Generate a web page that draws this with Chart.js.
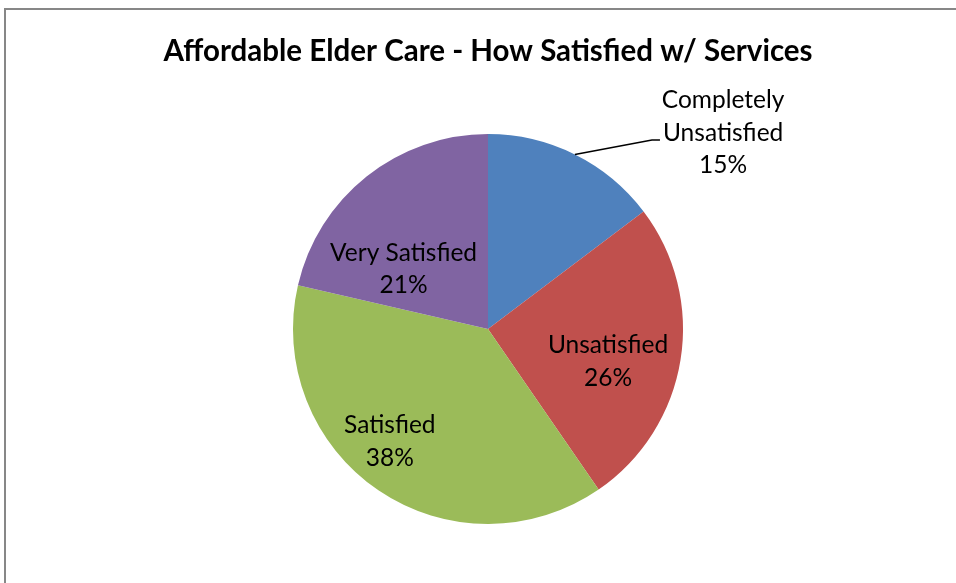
<!DOCTYPE html>
<html>
<head>
<meta charset="utf-8">
<script src="https://cdn.jsdelivr.net/npm/chart.js@4.4.0/dist/chart.umd.min.js"></script>
<style>
  html, body { margin: 0; padding: 0; background: #ffffff; }
  #wrap { width: 956px; height: 583px; }
</style>
</head>
<body>
<div id="wrap"><canvas id="pieChart" width="956" height="583"></canvas></div>
<script>
const chartTitle = "Affordable Elder Care - How Satisfied w/ Services";
const categories = ["Completely Unsatisfied", "Unsatisfied", "Satisfied", "Very Satisfied"];
// slice shares (labels show them rounded)
const shares = [14.7, 25.7, 38.2, 21.4];
const sliceColors = ["#4F81BD", "#C0504D", "#9BBB59", "#8064A2"];

// where each data label sits: fraction of radius and angle shift (deg) from slice middle
const labelPlacement = [
  { outside: true, wrap: true, r: 1.575, shift: 23.5 },
  { r: 0.636, shift: 5.3 },
  { r: 0.76, shift: 7.3 },
  { r: 0.535, shift: -15.5 },
];

const LABEL_FONT = '24.5px "Lato"';
const TITLE_FONT = 'bold 29.5px "Lato"';
const LINE_H = 32.5;
const TEXT_DY = 1.5;

const frameAndLabels = {
  id: "frameAndLabels",
  beforeDraw(chart) {
    const ctx = chart.ctx;
    ctx.save();
    ctx.strokeStyle = "#878787";
    ctx.lineWidth = 2;
    ctx.beginPath();
    ctx.moveTo(5, chart.height);
    ctx.lineTo(5, 9);
    ctx.lineTo(chart.width, 9);
    ctx.stroke();
    ctx.restore();
  },
  afterDatasetsDraw(chart) {
    const ctx = chart.ctx;
    const area = chart.chartArea;
    const arcs = chart.getDatasetMeta(0).data;

    ctx.save();
    ctx.fillStyle = "#000000";
    ctx.textAlign = "center";
    ctx.textBaseline = "middle";

    ctx.font = TITLE_FONT;
    ctx.fillText(chartTitle, (area.left + area.right) / 2, 51);

    ctx.font = LABEL_FONT;
    arcs.forEach((arc, i) => {
      const p = labelPlacement[i];
      const mid = (arc.startAngle + arc.endAngle) / 2;
      const ang = mid + (p.shift * Math.PI) / 180;
      const cx = arc.x + Math.cos(ang) * arc.outerRadius * p.r;
      const cy = arc.y + Math.sin(ang) * arc.outerRadius * p.r + TEXT_DY;
      const lines = p.wrap ? categories[i].split(" ") : [categories[i]];
      lines.push(Math.round(shares[i]) + "%");
      const top = cy - ((lines.length - 1) * LINE_H) / 2;
      lines.forEach((t, k) => ctx.fillText(t, cx, top + k * LINE_H));

      if (p.outside) {
        // leader line from slice edge to the middle text line
        const sx = arc.x + Math.cos(mid) * arc.outerRadius;
        const sy = arc.y + Math.sin(mid) * arc.outerRadius;
        const midLine = lines[Math.floor(lines.length / 2)];
        const ex = cx - ctx.measureText(midLine).width / 2 - 3;
        const ey = top + Math.floor(lines.length / 2) * LINE_H + 7;
        ctx.strokeStyle = "#000000";
        ctx.lineWidth = 1.5;
        ctx.beginPath();
        ctx.moveTo(sx, sy);
        ctx.lineTo(ex - 8, ey);
        ctx.lineTo(ex, ey);
        ctx.stroke();
      }
    });
    ctx.restore();
  },
};

new Chart(document.getElementById("pieChart"), {
  type: "pie",
  data: {
    labels: categories,
    datasets: [
      {
        data: shares,
        backgroundColor: sliceColors,
        borderWidth: 0,
      },
    ],
  },
  options: {
    responsive: false,
    animation: false,
    layout: { padding: { top: 134, bottom: 59, left: 293, right: 273 } },
    plugins: {
      legend: { display: false },
      title: { display: false },
      tooltip: { enabled: false },
    },
  },
  plugins: [frameAndLabels],
});
</script>
</body>
</html>
